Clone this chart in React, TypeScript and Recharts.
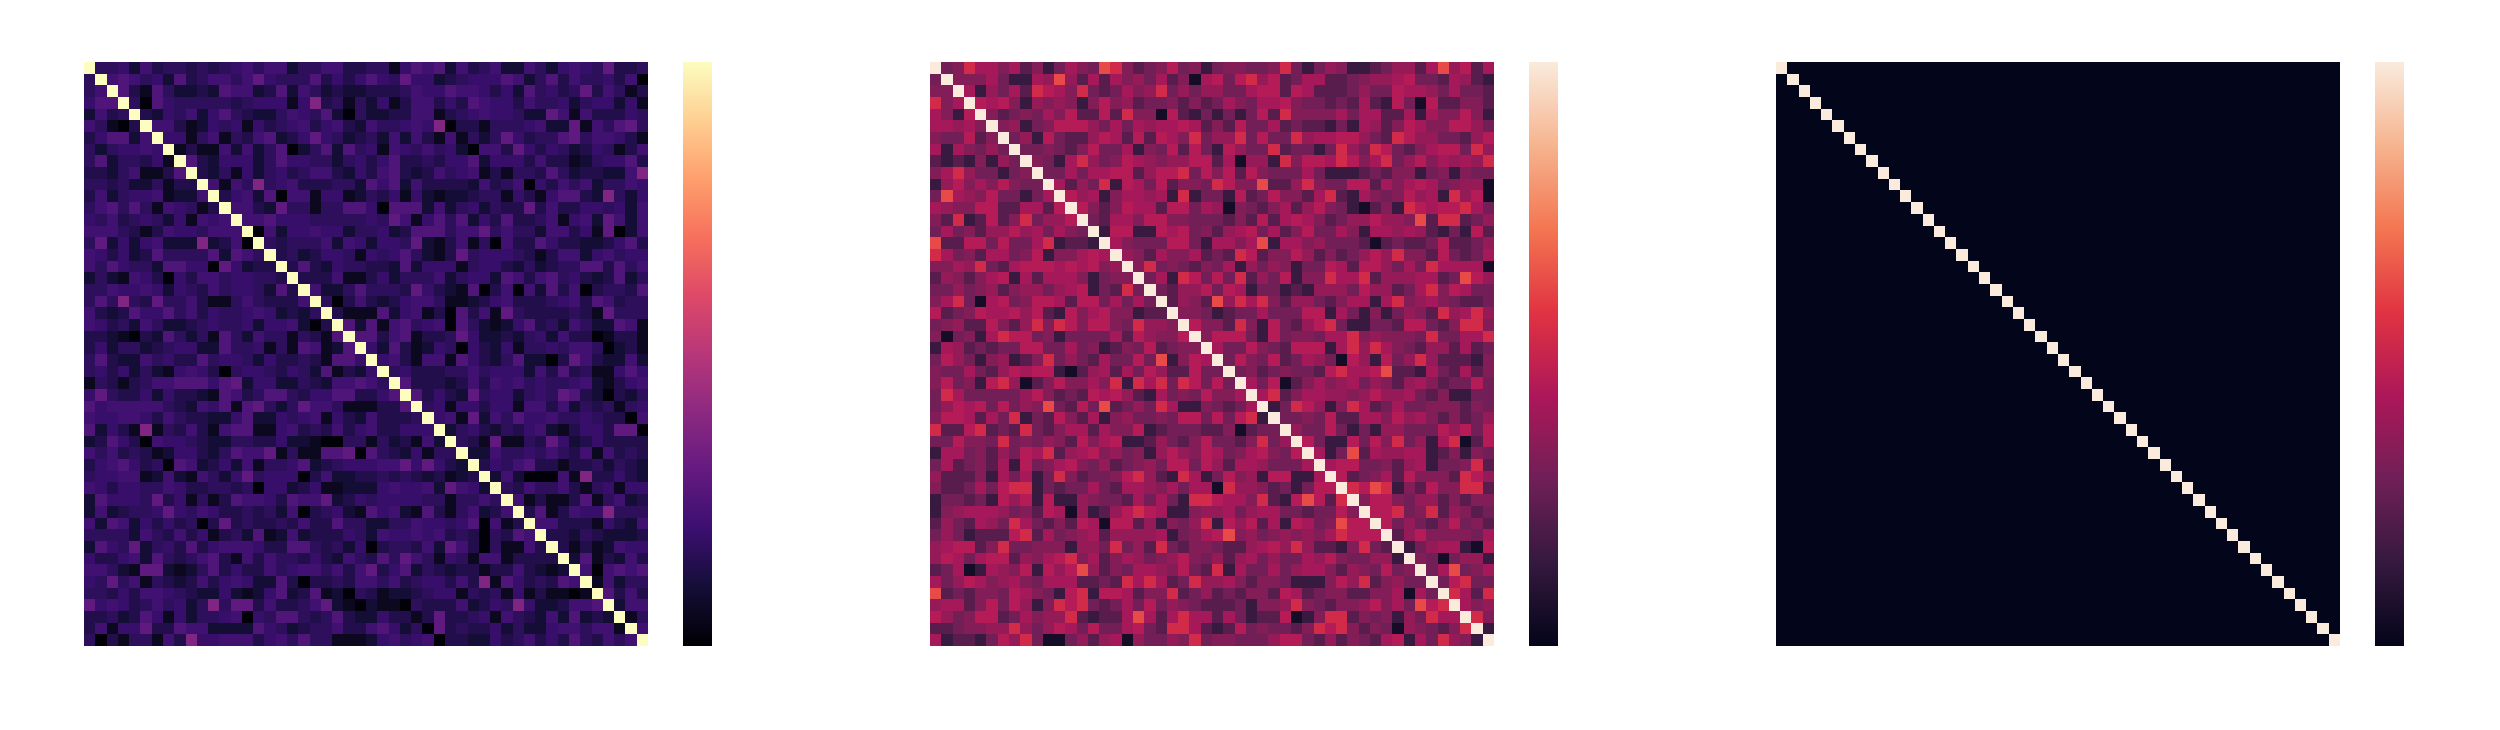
import { Bar, BarChart, Scatter, ScatterChart, XAxis, YAxis } from "recharts";

// upper triangle of each correlation matrix, one string per row, starting right after the diagonal.
// each digit is a shade, see the level lists below
const firstRows = [
  "44526 34434 34564 66244 66334 41576 72634 62264 25654 8334",
  "67645 27346 64685 44473 53575 48552 34555 76247 36445 360",
  "73174 22327 66237 26423 22333 46557 66535 27453 48364 13",
  "40754 44443 45551 59341 42513 66353 76553 64452 45525 1",
  "32546 25743 22465 47204 22336 61345 65542 28616 33354",
  "66312 54515 34563 56326 44565 90331 44456 22816 4784",
  "55146 14367 23585 42342 62631 61424 85344 78466 531",
  "13116 26247 02472 74516 54645 20663 85354 23541 36",
  "73255 52475 54424 53573 34355 72555 36331 24557 3",
  "32415 24534 66325 36732 36456 13144 37423 32269",
  "61649 45633 34427 57263 33326 34605 36462 4465",
  "35627 06615 51243 51521 22344 15315 77329 425",
  "66328 44144 77507 77262 45243 38363 35545 26",
  "66755 54444 45486 15747 25373 34615 62862 6",
  "06255 65524 45237 77466 84644 26635 18026",
  "43444 62652 55482 13614 06337 53322 3573",
  "34235 54154 57421 38455 54313 66256 455",
  "37325 44332 72555 14553 24234 47737 46",
  "33361 13524 44624 55276 36745 32372 4",
  "62247 44438 53217 03606 27360 34437",
  "40363 23566 41123 56333 45637 6344",
  "31117 25613 07361 84333 34318 444",
  "72716 74560 74212 57342 64227 61",
  "77367 13348 52232 45263 30133 1",
  "52731 25405 32514 45466 40231",
  "56316 61753 24722 03863 2262",
  "45333 44645 55263 73411 575",
  "73332 36365 64544 56213 56",
  "73532 84552 45487 32032 4",
  "45155 35516 63624 3414 5",
  "56182 64755 64454 3306",
  "24532 43562 13553 880",
  "43181 14385 23533 33",
  "22644 54643 61634 3",
  "35467 33133 42432",
  "26200 06193 3532",
  "43644 63145 155",
  "61311 37146 23",
  "37136 55944 4",
  "66333 15326",
  "33243 2223",
  "31312 655",
  "27132 63",
  "60676 7",
  "16244",
  "7363",
  "266",
  "14",
  "6",
];

const secondRows = [
  "34866 46241 36439 84234 73413 44334 83135 41123 55269 5726",
  "44463 11659 52626 45362 40673 78572 36622 34556 73326 521",
  "61536 28764 83236 45835 35533 67727 62223 53376 65363 32",
  "76741 54541 47452 33424 23643 66743 32326 21730 72244 2",
  "42343 64722 72844 07213 13137 28444 46366 22616 44741",
  "45134 77753 63656 67624 27336 23221 31652 47644 7753",
  "35173 22576 27276 48355 83733 85667 75328 75533 257",
  "33432 47336 14372 73175 33823 31385 38732 46773 85",
  "43168 53476 54557 72605 51847 76874 68357 46565 8",
  "33636 67725 77837 47274 33363 11123 24413 41433",
  "62538 17637 24438 74492 25843 37726 46763 4550",
  "75614 66561 81331 72374 42682 16434 75618 570",
  "74247 66277 36504 32462 57431 02418 76778 63",
  "32664 77443 33242 72676 42355 75549 28823 5",
  "17711 76734 25673 62473 36416 65652 13172",
  "64333 77316 64691 66453 33202 32237 2235",
  "54264 46232 87244 75242 35758 44273 236",
  "48343 24361 53541 33762 77536 38666 60",
  "36187 37382 53714 48668 25556 62397 5",
  "32557 37613 31215 55375 52368 47633",
  "25429 58684 25532 46616 84564 3223",
  "44312 33633 37716 31413 54285 685",
  "74428 41732 57831 13327 73248 84",
  "47773 17344 36684 54443 83366 8",
  "63374 32777 16858 64325 52623",
  "37437 23653 07517 35852 2214",
  "34234 33278 66792 21632 624",
  "63702 46456 35425 64233 73",
  "68246 65545 75563 24113 3",
  "13875 14862 36334 44243",
  "33437 22664 75642 4235",
  "53373 13155 33375 737",
  "73117 37483 51680 27",
  "61392 65566 12414 3",
  "67733 42561 33482",
  "72346 27444 2875",
  "87981 42744 882",
  "47743 55242 44",
  "77834 82542 3",
  "73532 47342",
  "25744 4436",
  "13566 107",
  "43035 51",
  "36934 6",
  "37833",
  "8628",
  "645",
  "84",
  "1",
];

// shade digit -> position on the colormap
const firstLevels = [0.01, 0.055, 0.1, 0.135, 0.165, 0.19, 0.215, 0.25, 0.29, 0.37];
const secondLevels = [0.05, 0.15, 0.23, 0.29, 0.33, 0.37, 0.41, 0.45, 0.53, 0.62];

const magmaStops = ["#000004", "#140e36", "#3b0f70", "#641a80", "#8c2981", "#b73779", "#de4968", "#f7705c", "#fe9f6d", "#fecf92", "#fcfdbf"];
const rocketStops = ["#03051a", "#35193e", "#701f57", "#ad1759", "#e13342", "#f37651", "#f6b48f", "#faebdd"];

const SIZE = 50;
const PLOT_W = 564;
const PLOT_H = 584;
const TOP = 62;

function hexToRgb(hex: string) {
  return [1, 3, 5].map((i) => parseInt(hex.slice(i, i + 2), 16));
}

function sampleColor(stops: string[], t: number) {
  const pos = Math.min(Math.max(t, 0), 1) * (stops.length - 1);
  const i = Math.min(Math.floor(pos), stops.length - 2);
  const a = hexToRgb(stops[i]);
  const b = hexToRgb(stops[i + 1]);
  const f = pos - i;
  const c = a.map((v, k) => Math.round(v + (b[k] - v) * f));
  return `rgb(${c[0]},${c[1]},${c[2]})`;
}

// mirrors the upper triangle, the matrices are symmetric
function buildCells(rows: string[], levels: number[]) {
  const clean = rows.map((r) => r.replace(/\s/g, ""));
  const valueAt = (r: number, c: number) => {
    if (r === c) return 1;
    const lo = Math.min(r, c);
    const hi = Math.max(r, c);
    const digit = clean[lo] ? clean[lo][hi - lo - 1] : undefined;
    return levels[Number(digit ?? 0)];
  };
  const cells: { x: number; y: number; value: number }[] = [];
  for (let r = 0; r < SIZE; r++) {
    for (let c = 0; c < SIZE; c++) {
      cells.push({ x: c + 0.5, y: r + 0.5, value: valueAt(r, c) });
    }
  }
  return cells;
}

function HeatPanel({ left, rows, levels, stops }: { left: number; rows: string[]; levels: number[]; stops: string[] }) {
  const cells = buildCells(rows, levels);
  const w = PLOT_W / SIZE;
  const h = PLOT_H / SIZE;

  const drawCell = (p: any) => (
    <rect
      x={p.cx - w / 2}
      y={p.cy - h / 2}
      width={w + 0.3}
      height={h + 0.3}
      fill={sampleColor(stops, p.payload.value)}
      shapeRendering="crispEdges"
    />
  );

  return (
    <div style={{ position: "absolute", left, top: TOP }}>
      <ScatterChart width={PLOT_W} height={PLOT_H} margin={{ top: 0, right: 0, bottom: 0, left: 0 }}>
        <XAxis type="number" dataKey="x" domain={[0, SIZE]} hide />
        <YAxis type="number" dataKey="y" domain={[0, SIZE]} reversed hide />
        <Scatter data={cells} shape={drawCell} isAnimationActive={false} />
      </ScatterChart>
    </div>
  );
}

function ColorBar({ left, id, stops }: { left: number; id: string; stops: string[] }) {
  return (
    <div style={{ position: "absolute", left, top: TOP }}>
      <BarChart
        width={29}
        height={PLOT_H}
        data={[{ name: "scale", value: 1 }]}
        margin={{ top: 0, right: 0, bottom: 0, left: 0 }}
        barCategoryGap={0}
      >
        <defs>
          <linearGradient id={id} x1="0" y1="1" x2="0" y2="0">
            {stops.map((s, i) => (
              <stop key={s} offset={i / (stops.length - 1)} stopColor={s} />
            ))}
          </linearGradient>
        </defs>
        <XAxis dataKey="name" hide />
        <YAxis domain={[0, 1]} hide />
        <Bar dataKey="value" fill={`url(#${id})`} isAnimationActive={false} />
      </BarChart>
    </div>
  );
}

export default function App() {
  return (
    <div style={{ position: "absolute", left: 0, top: 0, width: 2500, height: 730, background: "#fff", overflow: "hidden" }}>
      <HeatPanel left={84} rows={firstRows} levels={firstLevels} stops={magmaStops} />
      <ColorBar left={683} id="barMagma" stops={magmaStops} />
      <HeatPanel left={930} rows={secondRows} levels={secondLevels} stops={rocketStops} />
      <ColorBar left={1529} id="barRocket" stops={rocketStops} />
      <HeatPanel left={1776} rows={[]} levels={[0]} stops={rocketStops} />
      <ColorBar left={2375} id="barRocket3" stops={rocketStops} />
    </div>
  );
}
